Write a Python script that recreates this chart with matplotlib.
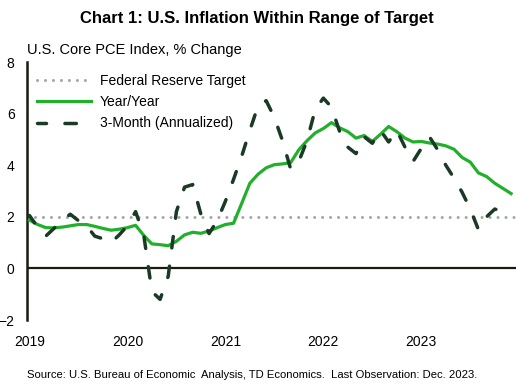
import matplotlib
matplotlib.use("Agg")
import matplotlib.pyplot as plt
import numpy as np

plt.rcParams['font.family'] = ['Liberation Sans', 'DejaVu Sans']

# Data (monthly, Jan 2019 - Dec 2023)
years = ["2019", "2020", "2021", "2022", "2023"]
target = 2.0
yoy = [1.87, 1.70, 1.58, 1.57, 1.60, 1.65, 1.70, 1.70, 1.63, 1.55, 1.48, 1.52,
       1.58, 1.67, 1.28, 0.95, 0.92, 0.88, 1.05, 1.30, 1.40, 1.36, 1.45, 1.58,
       1.70, 1.75, 2.52, 3.30, 3.65, 3.90, 4.02, 4.05, 4.10, 4.60, 4.95, 5.25,
       5.42, 5.65, 5.45, 5.30, 5.05, 5.15, 4.92, 5.20, 5.50, 5.30, 5.05, 4.90,
       4.92, 4.86, 4.82, 4.75, 4.62, 4.30, 4.12, 3.70, 3.56, 3.30, 3.10, 2.90]
three_month = [2.05, 1.60, 1.25, 1.55, 1.85, 2.10, 1.85, 1.65, 1.25, 1.15, 1.00, 1.30,
               1.65, 2.20, 1.30, -0.90, -1.20, -0.30, 2.20, 3.15, 3.25, 2.10, 1.35, 1.85,
               2.60, 3.45, 4.35, 5.35, 6.30, 6.50, 5.85, 4.95, 3.85, 4.15, 4.95, 6.15,
               6.60, 6.25, 5.30, 4.70, 4.45, 5.10, 4.85, 5.35, 4.90, 5.35, 4.70, 4.15,
               4.65, 5.10, 4.60, 4.00, 3.50, 2.95, 2.30, 1.50, 2.00, 2.30, 2.20, 1.95]

W, H = 516, 385
fig = plt.figure(figsize=(W / 100, H / 100), dpi=100)
ax = fig.add_axes([27 / W, (H - 320) / H, (W - 27) / W, (320 - 62) / H])

m = np.arange(len(yoy))
GREEN = '#22B02C'
DARK = '#1B3A26'
GRAY = '#A6A6A6'

ax.plot([-0.3, 59.6], [target, target], color=GRAY, lw=2.2, linestyle=(0, (0.01, 2.6)),
        dash_capstyle='round', label='Federal Reserve Target', zorder=2)
ax.plot(m, yoy, color=GREEN, lw=2.3, label='Year/Year', zorder=3, solid_joinstyle='round')
ax.plot(m, three_month, color=DARK, lw=2.5, linestyle=(0.7, (3.3, 5.3)),
        label='3-Month (Annualized)', zorder=4, dash_capstyle='round')

ax.axhline(0, color='#1a1a10', lw=1.6, zorder=1)

ax.set_xlim(-0.3, 59.6)
ax.set_ylim(-2, 8)
ax.set_yticks([-2, 0, 2, 4, 6, 8])
ax.set_xticks([0, 12, 24, 36, 48])
ax.set_xticklabels(years)
ax.tick_params(axis='both', length=0, labelsize=10, colors='#000000')
ax.tick_params(axis='y', pad=9)
ax.tick_params(axis='x', pad=11)
for s in ['top', 'right', 'bottom']:
    ax.spines[s].set_visible(False)
ax.spines['left'].set_color('#1a1a10')
ax.spines['left'].set_linewidth(1.8)

fig.text(257 / W, 1 - 18 / H, 'Chart 1: U.S. Inflation Within Range of Target',
         ha='center', va='center', fontsize=12, fontweight='bold')
fig.text(27 / W, 1 - 50 / H, 'U.S. Core PCE Index, % Change',
         ha='left', va='center', fontsize=10.5)
fig.text(27 / W, 1 - 375 / H,
         'Source: U.S. Bureau of Economic  Analysis, TD Economics.  Last Observation: Dec. 2023.',
         ha='left', va='center', fontsize=8.1)

leg = ax.legend(loc='upper left', bbox_to_anchor=(37 / W, 1 - 74 / H),
                bbox_transform=fig.transFigure, frameon=False, fontsize=10,
                handlelength=3.9, handletextpad=0.6, labelspacing=0.52, borderpad=0,
                borderaxespad=0)

fig.savefig('out.png', dpi=100, facecolor='white')
